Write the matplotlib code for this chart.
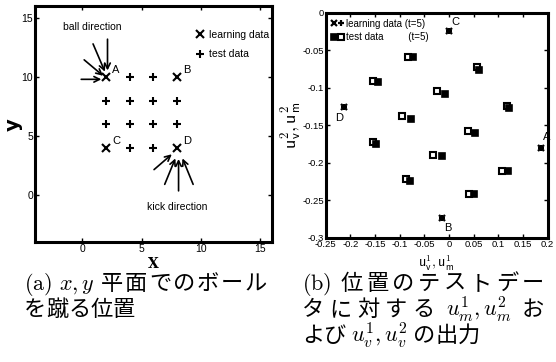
import matplotlib
matplotlib.use("Agg")
import matplotlib.pyplot as plt
from matplotlib.legend_handler import HandlerTuple

plt.rcParams['mathtext.fontset'] = 'cm'
NARROW = ['Liberation Sans Narrow', 'Liberation Sans', 'DejaVu Sans']
CJK = ['Noto Sans CJK JP', 'DejaVu Sans']

# ---------------- data: panel (a) ----------------
learn_x = [2, 8, 2, 8]
learn_y = [10, 10, 4, 4]
learn_names = ['A', 'B', 'C', 'D']
test_x = [4, 6, 2, 4, 6, 8, 2, 4, 6, 8, 4, 6]
test_y = [10, 10, 8, 8, 8, 8, 6, 6, 6, 6, 4, 4]
ball_start = [(-0.1, 9.8), (0.15, 11.45), (0.9, 12.8), (2.12, 13.2)]
ball_end = [(1.6, 9.8), (1.75, 10.1), (1.9, 10.45), (2.12, 10.55)]
kick_start = [(6.05, 2.15), (6.95, 0.9), (8.12, 0.35), (9.35, 0.9)]
kick_end = [(7.55, 3.45), (7.85, 3.1), (8.12, 3.05), (8.45, 3.1)]
a_ticks = [0, 5, 10, 15]

# ---------------- data: panel (b) ----------------
bl_x = [0.186, -0.014, 0.0, -0.213]          # learning A, B, C, D
bl_y = [-0.180, -0.273, -0.0245, -0.1255]
bt_m_x = [-0.083, 0.056, -0.154, -0.025, 0.117, -0.096, 0.038, -0.154, -0.033, 0.108, -0.088, 0.041]
bt_m_y = [-0.0587, -0.073, -0.091, -0.105, -0.124, -0.138, -0.157, -0.172, -0.189, -0.211, -0.221, -0.242]
bt_v_x = [-0.073, 0.060, -0.144, -0.009, 0.121, -0.078, 0.053, -0.148, -0.015, 0.119, -0.080, 0.050]
bt_v_y = [-0.0587, -0.076, -0.092, -0.109, -0.127, -0.1415, -0.160, -0.175, -0.191, -0.211, -0.224, -0.242]
b_label_pos = [(0.197, -0.165), (-0.002, -0.287), (0.012, -0.012), (-0.223, -0.140)]
b_xticks = [-0.25, -0.2, -0.15, -0.1, -0.05, 0, 0.05, 0.1, 0.15, 0.2]
b_xticklabels = ['-0.25', '-0.2', '-0.15', '-0.1', '-0.05', '0', '0.05', '0.1', '0.15', '0.2']
b_yticks = [0, -0.05, -0.1, -0.15, -0.2, -0.25, -0.3]
b_yticklabels = ['0', '-0.05', '-0.1', '-0.15', '-0.2', '-0.25', '-0.3']

# captions: each line is a list of tokens (CJK characters or latin/math chunks)
caption_a = [['$\\mathrm{(a)}$', '$x, y$', '平', '面', 'で', 'の', 'ボ', 'ー', 'ル'],
             ['を', '蹴', 'る', '位', '置']]
caption_b = [['$\\mathrm{(b)}$', '位', '置', 'の', 'テ', 'ス', 'ト', 'デ', 'ー'],
             ['タ', 'に', '対', 'す', 'る', '$u^1_m, u^2_m$', 'お'],
             ['よ', 'び', '$u^1_v, u^2_v$', 'の', '出', '力']]

W, H = 556, 362
fig = plt.figure(figsize=(W / 100, H / 100), dpi=100)

def style_axes(ax, size):
    for s in ax.spines.values():
        s.set_linewidth(2.2)
    ax.tick_params(direction='in', length=3, width=1, top=True, right=True, pad=1.5)
    for lab in ax.get_xticklabels() + ax.get_yticklabels():
        lab.set_family(NARROW)
        lab.set_fontsize(size)

# ---------------- panel (a) ----------------
ax1 = fig.add_axes([0.063, 0.331, 0.426, 0.652])
ax1.set_xlim(-4, 16)
ax1.set_ylim(-4, 16)
ax1.plot(learn_x, learn_y, 'x', color='black', ms=6, mew=1.5, ls='none', label='learning data')
ax1.plot(test_x, test_y, '+', color='black', ms=6, mew=1.5, ls='none', label='test data')
for x, y, n in zip(learn_x, learn_y, learn_names):
    ax1.text(x + 0.5, y + 0.35, n, family=NARROW, fontsize=8)
for s, e in zip(ball_start, ball_end):
    ax1.annotate('', xy=e, xytext=s,
                 arrowprops=dict(arrowstyle='->', color='black', lw=1.2, shrinkA=0, shrinkB=0))
for s, e in zip(kick_start, kick_end):
    ax1.annotate('', xy=e, xytext=s,
                 arrowprops=dict(arrowstyle='->', color='black', lw=1.2, shrinkA=0, shrinkB=0))
ax1.text(0.8, 14.2, 'ball direction', family=NARROW, fontsize=7.5, ha='center', va='center')
ax1.text(8.0, -1.0, 'kick direction', family=NARROW, fontsize=7.5, ha='center', va='center')
ax1.set_xticks(a_ticks)
ax1.set_yticks(a_ticks)
style_axes(ax1, 7.5)
ax1.set_xlabel('X', family='DejaVu Serif', fontweight='bold', fontsize=10, labelpad=2)
ax1.set_ylabel('y', family='DejaVu Sans', fontweight='bold', fontsize=14)
ax1.yaxis.set_label_coords(-0.05, 0.5)
ax1.legend(loc='upper right', frameon=False, handlelength=0.6, handletextpad=0.6,
           labelspacing=0.9, borderaxespad=0.3, prop={'family': NARROW, 'size': 7.5},
           bbox_to_anchor=(1.02, 0.93))

# ---------------- panel (b) ----------------
ax2 = fig.add_axes([0.586, 0.343, 0.399, 0.622])
ax2.set_xlim(-0.25, 0.2)
ax2.set_ylim(-0.3, 0)
h_lx, = ax2.plot(bl_x, bl_y, 'x', color='black', ms=4.5, mew=1.6, ls='none')
h_lp, = ax2.plot(bl_x, bl_y, '+', color='black', ms=4.5, mew=1.6, ls='none')
h_tm, = ax2.plot(bt_m_x, bt_m_y, 's', mfc='white', mec='black', ms=4.5, mew=1.5, ls='none')
h_tv, = ax2.plot(bt_v_x, bt_v_y, 's', mfc='black', mec='black', ms=4, mew=1.2, ls='none')
for (x, y), n in zip(b_label_pos, learn_names):
    ax2.text(x, y, n, family=NARROW, fontsize=8, ha='center', va='center')
ax2.set_xticks(b_xticks)
ax2.set_xticklabels(b_xticklabels)
ax2.set_yticks(b_yticks)
ax2.set_yticklabels(b_yticklabels)
style_axes(ax2, 6.8)
ax2.set_xlabel(r'$\mathsf{u^1_v,u^1_m}$', fontsize=10, labelpad=3)
ax2.set_ylabel(r'$\mathsf{u^2_v,u^2_m}$', fontsize=13)
ax2.yaxis.set_label_coords(-0.1, 0.5)
ax2.legend([(h_lx, h_lp), (h_tv, h_tm)],
           ['learning data (t=5)', 'test data         (t=5)'],
           handler_map={tuple: HandlerTuple(ndivide=None, pad=0.2)},
           loc='upper left', frameon=False, handlelength=1.2, handletextpad=0.3,
           labelspacing=0.35, borderaxespad=0.2, prop={'family': NARROW, 'size': 7})

# ---------------- captions: justified Japanese lines ----------------
FS = 16
EM = FS * 100 / 72
renderer = fig.canvas.get_renderer()

def is_cjk(tok):
    return not tok.startswith('$')

def measure(tok):
    t = fig.text(0, 0, tok, family=CJK, fontsize=FS)
    w = t.get_window_extent(renderer).width
    t.remove()
    return w

def place_line(tokens, x0, baseline, x1=None):
    widths = [EM if is_cjk(t) else measure(t) for t in tokens]
    gaps = [0.0 if (is_cjk(a) and is_cjk(b)) else 5.0 for a, b in zip(tokens[:-1], tokens[1:])]
    if x1 is not None and gaps:
        extra = max(0.0, (x1 - x0 - sum(widths) - sum(gaps)) / len(gaps))
        gaps = [g + extra for g in gaps]
    x = x0
    for i, (tok, w) in enumerate(zip(tokens, widths)):
        if is_cjk(tok):
            fig.text((x + w / 2) / W, 1 - baseline / H, tok, family=CJK, fontsize=FS,
                     ha='center', va='baseline')
        else:
            fig.text(x / W, 1 - baseline / H, tok, family=CJK, fontsize=FS,
                     ha='left', va='baseline')
        x += w + (gaps[i] if i < len(gaps) else 0)

baselines_px = [290, 316, 342]
place_line(caption_a[0], 24, baselines_px[0], 267)
place_line(caption_a[1], 24, baselines_px[1])
place_line(caption_b[0], 302, baselines_px[0], 544)
place_line(caption_b[1], 302, baselines_px[1], 544)
place_line(caption_b[2], 302, baselines_px[2])

fig.savefig('out.png', dpi=100)
